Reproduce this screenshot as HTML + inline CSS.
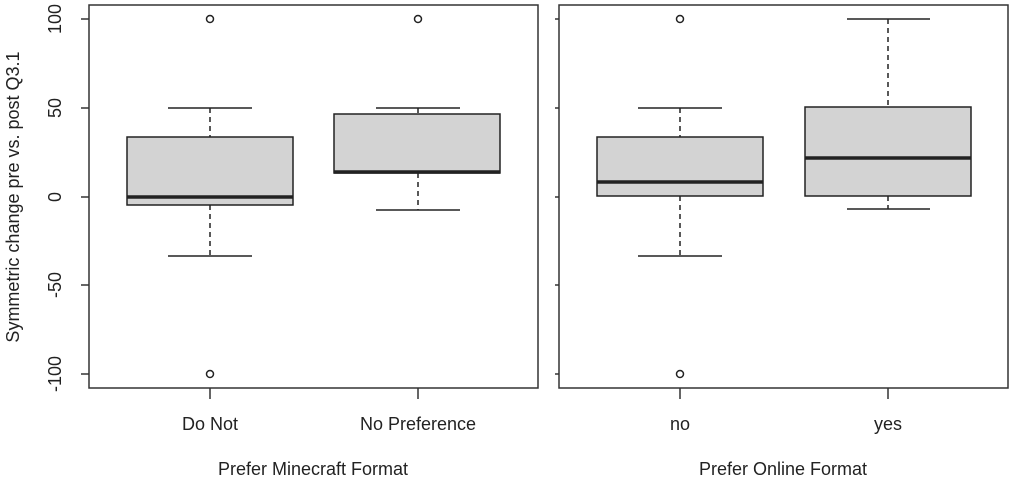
<!DOCTYPE html>
<html><head><style>body{margin:0;background:#fff}svg{display:block}text{font-family:"Liberation Sans",sans-serif;fill:#222}</style></head><body>
<svg width="1012" height="479" viewBox="0 0 1012 479">
<g stroke="#333" stroke-width="1.5" fill="none">
<rect x="89" y="5" width="449" height="383"/>
<rect x="559" y="5" width="449" height="383"/>
<path d="M89 19H81M89 108H81M89 197H81M89 285H81M89 374H81"/>
<path d="M559 19H555M559 108H555M559 197H555M559 285H555M559 374H555"/>
<path d="M210 388V399M418 388V399M680 388V399M888 388V399"/>
</g>
<g font-size="18" text-anchor="middle">
<text transform="translate(61,19) rotate(-90)">100</text>
<text transform="translate(61,108) rotate(-90)">50</text>
<text transform="translate(61,197) rotate(-90)">0</text>
<text transform="translate(61,285) rotate(-90)">-50</text>
<text transform="translate(61,374) rotate(-90)">-100</text>
<text transform="translate(19,197) rotate(-90)">Symmetric change pre vs. post Q3.1</text>
<text x="210" y="430">Do Not</text>
<text x="418" y="430">No Preference</text>
<text x="680" y="430">no</text>
<text x="888" y="430">yes</text>
<text x="313" y="475">Prefer Minecraft Format</text>
<text x="783" y="475">Prefer Online Format</text>
</g>
<g stroke="#222" stroke-width="1.5" fill="none">
<path d="M168 108H252M168 256H252"/>
<path d="M210 108V137M210 205V256" stroke-dasharray="5,4"/>
<rect x="127" y="137" width="166" height="68" fill="#d3d3d3"/>
<path d="M127 197H293" stroke-width="3.5"/>
<circle cx="210" cy="19" r="3.5"/><circle cx="210" cy="374" r="3.5"/>
<path d="M376 108H460M376 210H460"/>
<path d="M418 108V114M418 173V210" stroke-dasharray="5,4"/>
<rect x="334" y="114" width="166" height="59" fill="#d3d3d3"/>
<path d="M334 172H500" stroke-width="3.5"/>
<circle cx="418" cy="19" r="3.5"/>
<path d="M638 108H722M638 256H722"/>
<path d="M680 108V137M680 196V256" stroke-dasharray="5,4"/>
<rect x="597" y="137" width="166" height="59" fill="#d3d3d3"/>
<path d="M597 182H763" stroke-width="3.5"/>
<circle cx="680" cy="19" r="3.5"/><circle cx="680" cy="374" r="3.5"/>
<path d="M847 19H930M847 209H930"/>
<path d="M888 19V107M888 196V209" stroke-dasharray="5,4"/>
<rect x="805" y="107" width="166" height="89" fill="#d3d3d3"/>
<path d="M805 158H971" stroke-width="3.5"/>
</g>
</svg>
</body></html>
